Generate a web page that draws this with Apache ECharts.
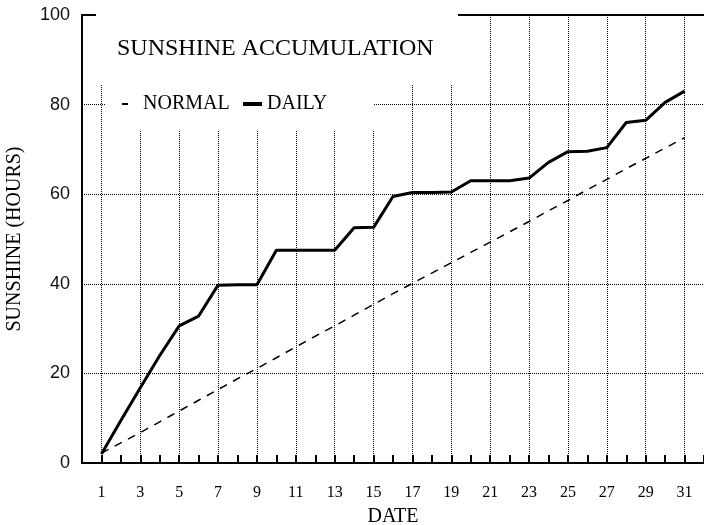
<!DOCTYPE html>
<html>
    <head>
        <meta charset="utf-8">
        <title>sunshine</title>
        <style media="screen">
            * {
                margin: 0px;
                padding: 0px;
            }
            html, body {
                width: 100%;
                height: 100%;
                background: #fff;
            }
            #main {
                width: 704px;
                height: 525px;
            }
        </style>
    </head>
    <body>
        <div id="main"></div>
        <script src="https://cdn.jsdelivr.net/npm/echarts@6/dist/echarts.min.js"></script>
        <script type="text/javascript">
        var days = [1, 2, 3, 4, 5, 6, 7, 8, 9, 10, 11, 12, 13, 14, 15, 16,
                    17, 18, 19, 20, 21, 22, 23, 24, 25, 26, 27, 28, 29, 30, 31];
        // accumulated hours
        var dailyHours = [2.0, 9.5, 16.8, 24.0, 30.6, 32.8, 39.7, 39.8, 39.8, 47.5, 47.5,
                          47.5, 47.5, 52.5, 52.6, 59.5, 60.4, 60.4, 60.5, 63.0, 63.0, 63.0,
                          63.6, 67.1, 69.5, 69.6, 70.4, 76.0, 76.5, 80.5, 83.0];
        var normalHours = [2.2, 4.5, 6.8, 9.2, 11.6, 14.0, 16.4, 18.8, 21.1, 23.5, 25.9,
                           28.3, 30.6, 33.0, 35.4, 37.8, 40.1, 42.4, 44.7, 47.0, 49.3, 51.6,
                           53.9, 56.3, 58.6, 61.0, 63.3, 65.7, 68.0, 70.3, 72.6];
        var yTicks = [0, 20, 40, 60, 80, 100];

        // axis runs from day 0 to day 32, labels only on odd days
        var xCats = ['0'].concat(days.map(String), ['32']);
        var toPairs = function(vals) {
            return vals.map(function(v, i) { return [String(days[i]), v]; });
        };
        var isOdd = function(index) { return index % 2 === 1; };
        var serif = '"Liberation Serif", "DejaVu Serif", serif';

        var myChart = echarts.init(document.getElementById('main'));
        var option = {
            backgroundColor: '#fff',
            animation: false,
            title: {
                text: 'SUNSHINE ACCUMULATION',
                left: 112,
                top: 32,
                z: 120,
                textStyle: {
                    fontFamily: serif,
                    fontSize: 24,
                    fontWeight: 'normal',
                    color: '#000'
                }
            },
            legend: [{
                data: ['NORMAL'],
                left: 117,
                top: 89,
                z: 120,
                icon: 'rect',
                itemWidth: 6,
                itemHeight: 2,
                selectedMode: false,
                formatter: '  {name}',
                textStyle: { fontFamily: serif, fontSize: 20, color: '#000' }
            }, {
                data: ['DAILY'],
                left: 238,
                top: 89,
                z: 120,
                icon: 'rect',
                itemWidth: 19,
                itemHeight: 4,
                selectedMode: false,
                textStyle: { fontFamily: serif, fontSize: 20, color: '#000' }
            }],
            graphic: [{
                type: 'rect',
                z: 100,
                shape: { x: 96, y: 0, width: 362, height: 85 },
                style: { fill: '#fff' }
            }, {
                type: 'rect',
                z: 100,
                shape: { x: 105, y: 85, width: 269, height: 45 },
                style: { fill: '#fff' }
            }],
            grid: {
                left: 82,
                right: 0,
                top: 15,
                bottom: 62,
                outerBoundsMode: 'none'
            },
            xAxis: [{
                type: 'category',
                data: xCats,
                boundaryGap: false,
                name: 'DATE',
                nameLocation: 'middle',
                nameGap: 44,
                nameTextStyle: { fontFamily: serif, fontSize: 20, color: '#000' },
                axisLine: { lineStyle: { color: '#000', width: 2 } },
                axisTick: {
                    inside: true,
                    interval: 0,
                    length: 8,
                    lineStyle: { color: '#000', width: 2 }
                },
                axisLabel: {
                    interval: isOdd,
                    margin: 22,
                    fontFamily: serif,
                    fontSize: 16,
                    color: '#000'
                },
                splitLine: {
                    show: true,
                    interval: isOdd,
                    lineStyle: { color: '#000', width: 1, type: [1, 1] }
                }
            }, {
                type: 'category',
                data: xCats,
                position: 'top',
                boundaryGap: false,
                axisLine: { lineStyle: { color: '#000', width: 2 } },
                axisTick: { show: false },
                axisLabel: { show: false },
                splitLine: { show: false }
            }],
            yAxis: {
                type: 'value',
                min: yTicks[0],
                max: yTicks[yTicks.length - 1],
                interval: 20,
                name: 'SUNSHINE (HOURS)',
                nameLocation: 'middle',
                nameGap: 57,
                nameTextStyle: { fontFamily: serif, fontSize: 20, color: '#000' },
                axisLine: { show: true, lineStyle: { color: '#000', width: 2 } },
                axisTick: { show: false },
                axisLabel: {
                    margin: 12,
                    fontFamily: '"Liberation Sans", Arial, sans-serif',
                    fontSize: 18,
                    color: '#111'
                },
                splitLine: {
                    show: true,
                    showMaxLine: false,
                    lineStyle: { color: '#000', width: 1, type: [1, 1] }
                }
            },
            series: [{
                name: 'NORMAL',
                type: 'line',
                data: toPairs(normalHours),
                symbol: 'none',
                color: '#000',
                lineStyle: { color: '#000', width: 1.5, type: [8, 7] }
            }, {
                name: 'DAILY',
                type: 'line',
                data: toPairs(dailyHours),
                symbol: 'none',
                color: '#000',
                lineStyle: { color: '#000', width: 3 }
            }]
        };
        myChart.setOption(option);
        </script>
    </body>
</html>
